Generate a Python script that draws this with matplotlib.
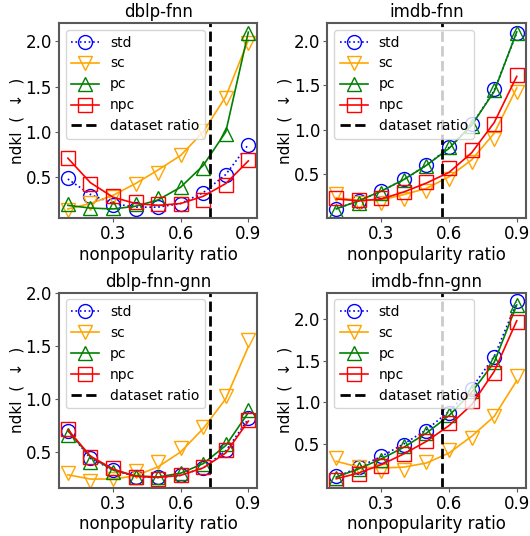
import matplotlib
matplotlib.use("Agg")
import matplotlib.pyplot as plt
from matplotlib.lines import Line2D

ratios = [0.1, 0.2, 0.3, 0.4, 0.5, 0.6, 0.7, 0.8, 0.9]
methods = ["std", "sc", "pc", "npc"]
panel_titles = ["dblp-fnn", "imdb-fnn", "dblp-fnn-gnn", "imdb-fnn-gnn"]
dataset_ratio = [0.73, 0.567, 0.73, 0.567]

# measured ndkl per method (markers)
dblp_fnn = {
    "std": [0.49, 0.29, 0.19, 0.155, 0.17, 0.21, 0.33, 0.53, 0.86],
    "sc":  [0.14, 0.22, 0.28, 0.43, 0.55, 0.745, 1.01, 1.37, 1.98],
    "pc":  [0.21, 0.16, 0.16, 0.21, 0.27, 0.39, 0.60, 0.98, 2.09],
    "npc": [0.71, 0.43, 0.29, 0.23, 0.20, 0.21, 0.25, 0.41, 0.685],
}
imdb_fnn = {
    "std": [0.113, 0.195, 0.31, 0.44, 0.60, 0.81, 1.06, 1.455, 2.09],
    "sc":  [0.28, 0.18, 0.17, 0.22, 0.31, 0.45, 0.635, 0.90, 1.42],
    "pc":  [0.086, 0.18, 0.29, 0.43, 0.59, 0.80, 1.04, 1.45, 2.09],
    "npc": [0.235, 0.205, 0.235, 0.30, 0.41, 0.565, 0.77, 1.06, 1.62],
}
dblp_fnn_gnn = {
    "std": [0.70, 0.44, 0.33, 0.26, 0.26, 0.285, 0.35, 0.52, 0.815],
    "sc":  [0.30, 0.23, 0.25, 0.32, 0.41, 0.535, 0.73, 1.03, 1.55],
    "pc":  [0.66, 0.41, 0.315, 0.26, 0.26, 0.30, 0.39, 0.57, 0.89],
    "npc": [0.72, 0.45, 0.35, 0.26, 0.25, 0.285, 0.36, 0.52, 0.80],
}
imdb_fnn_gnn = {
    "std": [0.108, 0.22, 0.356, 0.49, 0.65, 0.875, 1.155, 1.54, 2.22],
    "sc":  [0.33, 0.22, 0.17, 0.19, 0.285, 0.43, 0.57, 0.84, 1.31],
    "pc":  [0.09, 0.20, 0.31, 0.47, 0.63, 0.85, 1.13, 1.49, 2.17],
    "npc": [0.068, 0.135, 0.235, 0.38, 0.53, 0.755, 1.01, 1.35, 1.97],
}

# fitted trend per method (lines)
dblp_fnn_fit = {
    "std": [0.48, 0.31, 0.21, 0.17, 0.17, 0.21, 0.33, 0.53, 0.86],
    "sc":  [0.15, 0.21, 0.30, 0.43, 0.58, 0.74, 1.00, 1.39, 2.01],
    "pc":  [0.19, 0.16, 0.15, 0.18, 0.25, 0.39, 0.63, 1.00, 2.10],
    "npc": [0.71, 0.44, 0.28, 0.21, 0.19, 0.21, 0.29, 0.43, 0.68],
}
imdb_fnn_fit = {
    "std": [0.11, 0.20, 0.31, 0.44, 0.60, 0.80, 1.05, 1.44, 2.09],
    "sc":  [0.235, 0.205, 0.21, 0.27, 0.34, 0.47, 0.66, 0.96, 1.47],
    "pc":  [0.11, 0.20, 0.31, 0.44, 0.60, 0.79, 1.05, 1.43, 2.10],
    "npc": [0.22, 0.20, 0.22, 0.30, 0.40, 0.52, 0.74, 1.08, 1.60],
}
dblp_fnn_gnn_fit = {
    "std": [0.70, 0.44, 0.33, 0.27, 0.26, 0.28, 0.35, 0.51, 0.81],
    "sc":  [0.285, 0.245, 0.245, 0.275, 0.36, 0.50, 0.72, 1.00, 1.49],
    "pc":  [0.70, 0.455, 0.33, 0.275, 0.265, 0.30, 0.39, 0.56, 0.87],
    "npc": [0.71, 0.46, 0.34, 0.27, 0.26, 0.28, 0.35, 0.49, 0.79],
}
imdb_fnn_gnn_fit = {
    "std": [0.10, 0.22, 0.35, 0.50, 0.67, 0.89, 1.17, 1.55, 2.20],
    "sc":  [0.29, 0.22, 0.21, 0.22, 0.27, 0.39, 0.59, 0.83, 1.26],
    "pc":  [0.10, 0.20, 0.32, 0.46, 0.63, 0.84, 1.12, 1.48, 2.17],
    "npc": [0.08, 0.15, 0.25, 0.38, 0.53, 0.72, 0.97, 1.37, 1.98],
}

panel_points = [dblp_fnn, imdb_fnn, dblp_fnn_gnn, imdb_fnn_gnn]
panel_fits = [dblp_fnn_fit, imdb_fnn_fit, dblp_fnn_gnn_fit, imdb_fnn_gnn_fit]
panel_ylims = [(0.047, 2.2), (0.003, 2.2), (0.163, 2.0), (-0.028, 2.32)]

colors = {"std": "blue", "sc": "orange", "pc": "green", "npc": "red"}
markers = {"std": "o", "sc": "v", "pc": "^", "npc": "s"}
styles = {"std": ":", "sc": "-", "pc": "-", "npc": "-"}

plt.rcParams["font.size"] = 12

fig, axes = plt.subplots(2, 2, figsize=(5.3, 5.36), dpi=100)
fig.subplots_adjust(left=0.111, right=0.992, top=0.957, bottom=0.09,
                    wspace=0.352, hspace=0.38)

for ax, title, pts, fit, dr, ylim in zip(axes.flat, panel_titles, panel_points,
                                        panel_fits, dataset_ratio, panel_ylims):
    handles = []
    for m in methods:
        ax.plot(ratios, fit[m], color=colors[m], ls=styles[m], lw=1.2)
        ax.plot(ratios, pts[m], color=colors[m], ls="none", marker=markers[m],
                ms=10, mfc="none", mew=1.0)
        handles.append(Line2D([], [], color=colors[m], ls=styles[m], lw=1.2,
                              marker=markers[m], ms=10, mfc="none", mew=1.0,
                              label=m))
    ax.axvline(dr, color="black", ls="--", lw=2)
    handles.append(Line2D([], [], color="black", ls="--", lw=2,
                          label="dataset ratio"))

    ax.set_xlim(0.06, 0.94)
    ax.set_ylim(*ylim)
    ax.set_xticks([0.3, 0.6, 0.9])
    ax.set_yticks([0.5, 1.0, 1.5, 2.0])
    ax.set_title(title, fontsize=12, pad=4)
    ax.set_xlabel("nonpopularity ratio", labelpad=2)
    ax.set_ylabel("ndkl  (  ↓  )", fontsize=11, labelpad=1)
    for sp in ax.spines.values():
        sp.set_color("0.35")
        sp.set_linewidth(1.5)
    ax.tick_params(color="0.35", labelsize=12, length=3, pad=2)
    ax.legend(handles=handles, loc="upper left", fontsize=10)

fig.savefig("out.png", dpi=100)
